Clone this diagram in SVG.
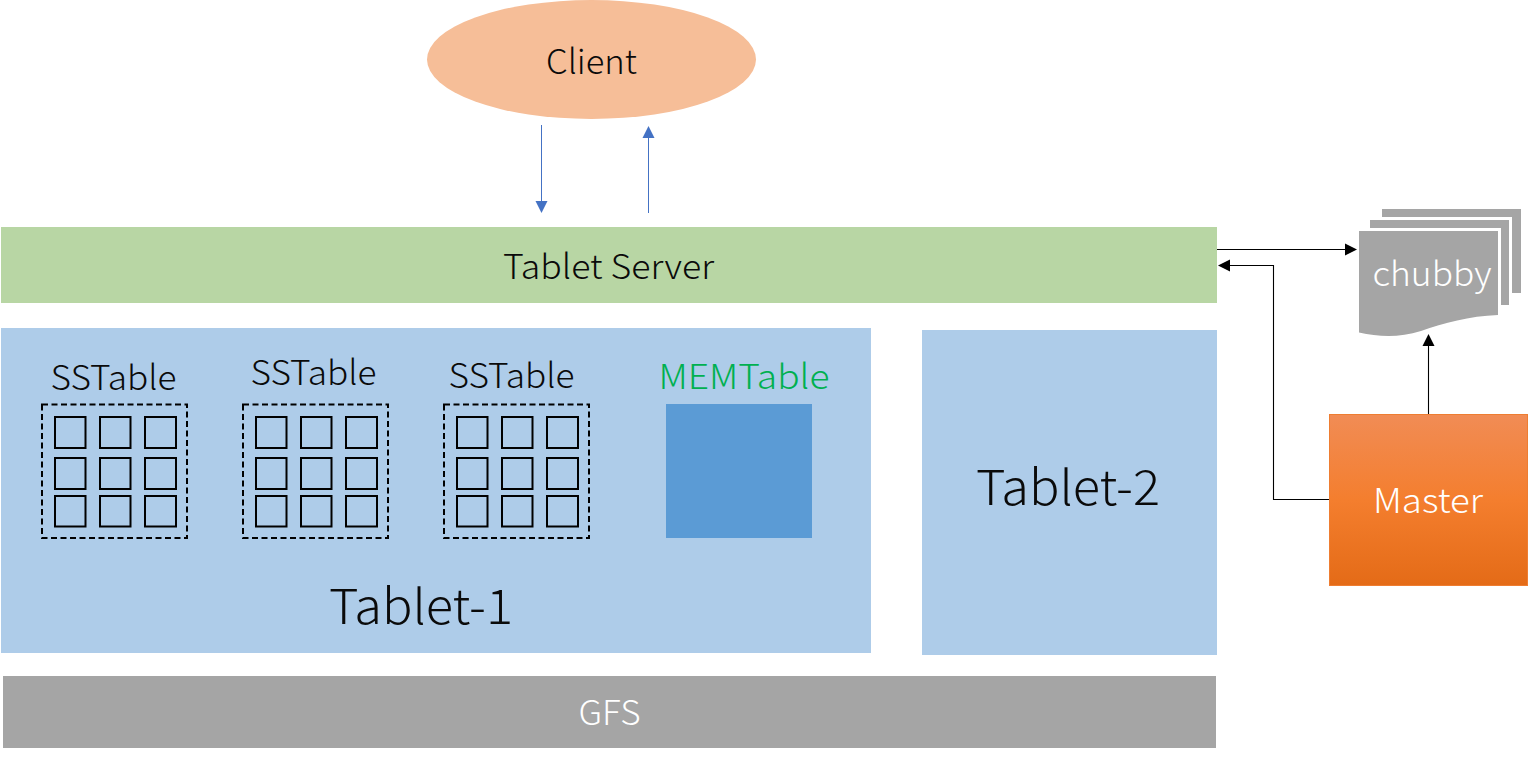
<svg xmlns="http://www.w3.org/2000/svg" xmlns:xlink="http://www.w3.org/1999/xlink" width="1528" height="757" viewBox="0 0 1528 757">
<style>
text{font-family:"Noto Sans CJK SC","Noto Sans","Liberation Sans",sans-serif;font-weight:300;text-anchor:middle;fill:#0a0a0a}
.cell{fill:none;stroke:#000;stroke-width:2}
.dash{fill:none;stroke:#000;stroke-width:2;stroke-dasharray:6 3.5}
.blue{fill:#aecce9}
.gray{fill:#a5a5a5}
.k{fill:none;stroke:#000;stroke-width:1.1}
.b{fill:none;stroke:#4472c4;stroke-width:1}
</style>
<defs>
<linearGradient id="og" x1="0" y1="0" x2="0" y2="1"><stop offset="0" stop-color="#f18c55"/><stop offset=".5" stop-color="#f47e2e"/><stop offset="1" stop-color="#e46b17"/></linearGradient>
<g id="grid">
<rect class="dash" x="42" y="404.500" width="145" height="133.500"/>
<rect class="cell" x="55" y="417" width="30.500" height="31"/><rect class="cell" x="100" y="417" width="30.500" height="31"/><rect class="cell" x="145" y="417" width="31" height="31"/>
<rect class="cell" x="55" y="458" width="30.500" height="31"/><rect class="cell" x="100" y="458" width="30.500" height="31"/><rect class="cell" x="145" y="458" width="31" height="31"/>
<rect class="cell" x="55" y="496" width="30.500" height="30.500"/><rect class="cell" x="100" y="496" width="30.500" height="30.500"/><rect class="cell" x="145" y="496" width="31" height="30.500"/>
</g>
<path id="doc" d="M0 0H139V84C110 85 85 92 62 100C40 107 20 106 0 101.500Z"/>
</defs>
<g id="client"><ellipse cx="591.500" cy="59.500" rx="164.500" ry="59.500" fill="#f6be98"/><text x="591.500" y="74" font-size="34" textLength="91" lengthAdjust="spacingAndGlyphs">Client</text></g>
<g id="tablet-server"><rect x="1" y="227" width="1216" height="76" fill="#b8d6a4"/><text x="608.500" y="279" font-size="34" textLength="211" lengthAdjust="spacingAndGlyphs">Tablet Server</text></g>
<g id="tablet-1"><rect class="blue" x="1" y="328" width="870" height="325"/><text x="421" y="624" font-size="48" textLength="184" lengthAdjust="spacingAndGlyphs">Tablet-1</text></g>
<g id="sstable-1"><text x="113.500" y="390" font-size="34" textLength="126" lengthAdjust="spacingAndGlyphs">SSTable</text><use xlink:href="#grid" href="#grid"/></g>
<g id="sstable-2"><text x="313.500" y="385" font-size="34" textLength="126" lengthAdjust="spacingAndGlyphs">SSTable</text><use xlink:href="#grid" href="#grid" x="201"/></g>
<g id="sstable-3"><text x="511.500" y="388" font-size="34" textLength="126" lengthAdjust="spacingAndGlyphs">SSTable</text><use xlink:href="#grid" href="#grid" x="402"/></g>
<g id="memtable"><text x="744" y="389" font-size="34" textLength="171" lengthAdjust="spacingAndGlyphs" style="fill:#00b050">MEMTable</text><rect x="666" y="404" width="146" height="134" fill="#5b9bd5"/></g>
<g id="tablet-2"><rect class="blue" x="922" y="330" width="295" height="325"/><text x="1068" y="505" font-size="48" textLength="184" lengthAdjust="spacingAndGlyphs">Tablet-2</text></g>
<g id="gfs"><rect class="gray" x="3" y="676" width="1213" height="72"/><text x="609.500" y="725" font-size="34" textLength="62" lengthAdjust="spacingAndGlyphs" style="fill:#fff">GFS</text></g>
<g id="chubby">
<rect class="gray" x="1382" y="209" width="139" height="84"/>
<rect x="1367" y="217" width="145" height="91" fill="#fff"/>
<rect class="gray" x="1370" y="220" width="139" height="85"/>
<rect x="1356" y="228" width="145" height="92" fill="#fff"/>
<use xlink:href="#doc" href="#doc" x="1359" y="231" class="gray"/>
<text x="1432" y="286" font-size="34" textLength="119" lengthAdjust="spacingAndGlyphs" style="fill:#fff">chubby</text>
</g>
<g id="master"><rect x="1329.500" y="414.500" width="198" height="171" fill="url(#og)" stroke="#ee7d31" stroke-width="1"/><text x="1428" y="513" font-size="34" textLength="110" lengthAdjust="spacingAndGlyphs" style="fill:#fff">Master</text></g>
<g id="connectors">
<path class="b" d="M541.500 125V203"/><path d="M535.500 201H547.500L541.500 213Z" fill="#4472c4"/>
<path class="b" d="M648.500 213V137"/><path d="M642.500 138H654.500L648.500 126Z" fill="#4472c4"/>
<path class="k" d="M1217 249.500H1347"/><path d="M1345 243.500L1357 249.500L1345 255.500Z" fill="#000"/>
<path class="k" d="M1329 499.500H1273.500V265.500H1228"/><path d="M1230 259.500L1218 265.500L1230 271.500Z" fill="#000"/>
<path class="k" d="M1428.500 414V345"/><path d="M1422.500 346H1434.500L1428.500 334Z" fill="#000"/>
</g>
</svg>
